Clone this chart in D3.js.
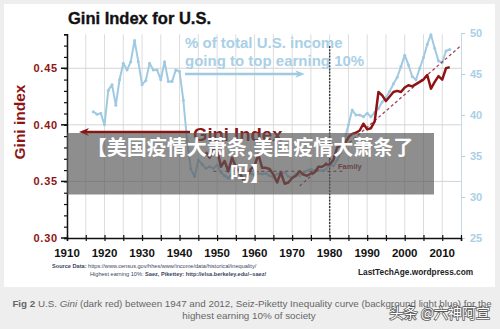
<!DOCTYPE html>
<html>
<head>
<meta charset="utf-8">
<script src="https://cdn.jsdelivr.net/npm/d3@7"></script>
<style>
  html, body { margin: 0; padding: 0; background: #eeeeee; }
  svg { display: block; }
</style>
</head>
<body>
<div id="chart"></div>
<script>
// top 10% income share (Saez-Piketty), percent
const shareYears = [1917, 1918, 1919, 1920, 1921, 1922, 1923, 1924, 1925, 1926, 1927, 1928, 1929,
  1930, 1931, 1932, 1933, 1934, 1935, 1936, 1937, 1938, 1939, 1940, 1941, 1942, 1943, 1944, 1945,
  1946, 1947, 1948, 1949, 1950, 1951, 1952, 1953, 1954, 1955, 1956, 1957, 1958, 1959, 1960, 1961,
  1962, 1963, 1964, 1965, 1966, 1967, 1968, 1969, 1970, 1971, 1972, 1973, 1974, 1975, 1976, 1977,
  1978, 1979, 1980, 1981, 1982, 1983, 1984, 1985, 1986, 1987, 1988, 1989, 1990, 1991, 1992, 1993,
  1994, 1995, 1996, 1997, 1998, 1999, 2000, 2001, 2002, 2003, 2004, 2005, 2006, 2007, 2008, 2009,
  2010, 2011, 2012]
const shareValues = [40.4, 40.1, 40.2, 38.8, 43.0, 43.7, 41.2, 44.3, 46.3, 45.5, 46.5, 49.1, 46.5,
  43.7, 44.2, 46.3, 45.5, 45.5, 44.3, 46.5, 44.1, 44.1, 45.5, 45.3, 41.8, 36.9, 33.4, 32.5, 34.5,
  34.0, 33.5, 33.7, 33.5, 33.9, 33.0, 32.6, 32.3, 32.8, 32.6, 32.7, 32.5, 32.8, 32.9, 32.6, 32.9,
  32.8, 32.9, 32.6, 32.4, 32.8, 33.0, 33.0, 32.5, 32.4, 32.8, 32.6, 32.9, 33.2, 33.4, 33.2, 33.3,
  33.2, 33.4, 33.9, 33.8, 34.5, 35.4, 37.0, 38.8, 40.6, 40.0, 40.0, 39.8, 40.2, 39.8, 40.3, 40.8,
  41.6, 42.1, 42.9, 43.8, 44.6, 45.9, 47.3, 46.1, 44.7, 44.3, 45.7, 47.0, 48.6, 49.8, 48.1, 46.6,
  46.4, 47.8, 48.0]

// Census family Gini index
const giniYears = [1947, 1948, 1949, 1950, 1951, 1952, 1953, 1954, 1955, 1956, 1957, 1958, 1959,
  1960, 1961, 1962, 1963, 1964, 1965, 1966, 1967, 1968, 1969, 1970, 1971, 1972, 1973, 1974, 1975,
  1976, 1977, 1978, 1979, 1980, 1981, 1982, 1983, 1984, 1985, 1986, 1987, 1988, 1989, 1990, 1991,
  1992, 1993, 1994, 1995, 1996, 1997, 1998, 1999, 2000, 2001, 2002, 2003, 2004, 2005, 2006, 2007,
  2008, 2009, 2010, 2011, 2012]
const giniValues = [0.376, 0.371, 0.378, 0.379, 0.363, 0.368, 0.359, 0.371, 0.363, 0.358, 0.351,
  0.354, 0.361, 0.364, 0.374, 0.362, 0.362, 0.361, 0.356, 0.349, 0.358, 0.348, 0.349, 0.353, 0.355,
  0.359, 0.356, 0.355, 0.357, 0.358, 0.363, 0.363, 0.365, 0.365, 0.369, 0.380, 0.382, 0.383, 0.389,
  0.392, 0.393, 0.395, 0.401, 0.396, 0.397, 0.403, 0.429, 0.426, 0.421, 0.425, 0.429, 0.430, 0.429,
  0.433, 0.435, 0.434, 0.436, 0.438, 0.440, 0.444, 0.432, 0.438, 0.443, 0.440, 0.450, 0.451]

// dashed guides: rising trend and the flat family level
const trendYears = [1972, 2015]
const trendGini = [0.346, 0.470]
const familyYears = [1949, 1984]
const familyGini = [0.359, 0.359]

const yearTicks = [1910, 1920, 1930, 1940, 1950, 1960, 1970, 1980, 1990, 2000, 2010]
const giniTicks = [0.30, 0.35, 0.40, 0.45]
const shareTicks = [25, 30, 35, 40, 45, 50]

const W = 500
const H = 329
const red = '#8e1414'
const blue = '#9fcae2'

const svg = d3.select('#chart').append('svg')
  .attr('width', W)
  .attr('height', H)

// white card behind the chart
svg.append('rect')
  .attr('x', 4).attr('y', 4)
  .attr('width', 491).attr('height', 283)
  .attr('fill', '#ffffff')

const x = d3.scaleLinear().domain([1910, 2015]).range([67, 461])
const yGini = d3.scaleLinear().domain([0.30, 0.48]).range([238, 34.3])
const yShare = d3.scaleLinear().domain([25, 50]).range([238, 33])

// grid
const grid = svg.append('g')
grid.selectAll('.vg')
  .data(d3.range(1915, 2015, 5))
  .join('line')
  .attr('x1', d => x(d)).attr('x2', d => x(d))
  .attr('y1', yGini(0.48)).attr('y2', yGini(0.30))
  .attr('stroke', '#dcdcdc').attr('stroke-width', 1)
grid.selectAll('.hg')
  .data(giniTicks.slice(1))
  .join('line')
  .attr('x1', x(1910)).attr('x2', x(2015))
  .attr('y1', d => yGini(d)).attr('y2', d => yGini(d))
  .attr('stroke', '#d4d4d4').attr('stroke-width', 1)

// left axis (Gini)
const leftAxis = svg.append('g')
  .attr('transform', `translate(${x(1910)},0)`)
  .call(d3.axisLeft(yGini).tickValues(d3.range(0.30, 0.4801, 0.01)).tickSize(3).tickFormat(''))
leftAxis.select('.domain').attr('stroke', '#111').attr('stroke-width', 1.5)
leftAxis.selectAll('.tick line').attr('stroke', '#111').attr('stroke-width', 1.2)
svg.append('g')
  .selectAll('line')
  .data(giniTicks)
  .join('line')
  .attr('x1', x(1910) - 6).attr('x2', x(1910))
  .attr('y1', d => yGini(d)).attr('y2', d => yGini(d))
  .attr('stroke', '#111').attr('stroke-width', 1.5)
svg.append('g')
  .selectAll('text')
  .data(giniTicks)
  .join('text')
  .attr('x', 58)
  .attr('y', d => yGini(d) + 4)
  .attr('text-anchor', 'end')
  .attr('font-family', 'Liberation Sans, Arial, sans-serif')
  .attr('font-weight', 'bold')
  .attr('font-size', 11)
  .attr('letter-spacing', 0.8)
  .attr('fill', red)
  .text(d => d.toFixed(2))
svg.append('text')
  .attr('transform', `translate(25,${122}) rotate(-90)`)
  .attr('text-anchor', 'middle')
  .attr('font-family', 'Liberation Sans, Arial, sans-serif')
  .attr('font-weight', 'bold')
  .attr('font-size', 15.5)
  .attr('fill', red)
  .text('Gini index')

// right axis (income share)
const rightAxis = svg.append('g')
  .attr('transform', `translate(${x(2015)},0)`)
  .call(d3.axisRight(yShare).tickValues(shareTicks).tickSize(4).tickFormat(''))
rightAxis.select('.domain').attr('stroke', '#c9d9e3').attr('stroke-width', 1)
rightAxis.selectAll('.tick line').attr('stroke', '#b8cfdd')
svg.append('g')
  .selectAll('text')
  .data(shareTicks)
  .join('text')
  .attr('x', 476)
  .attr('y', d => yShare(d) + 4)
  .attr('text-anchor', 'middle')
  .attr('font-family', 'Liberation Sans, Arial, sans-serif')
  .attr('font-weight', 'bold')
  .attr('font-size', 11)
  .attr('fill', '#a9d0e6')
  .text(d => d)

// bottom axis
const bottomAxis = svg.append('g')
  .attr('transform', `translate(0,${yGini(0.30)})`)
  .call(d3.axisBottom(x).tickValues(d3.range(1910, 2016, 5)).tickSize(3).tickFormat(''))
bottomAxis.select('.domain').attr('stroke', '#111').attr('stroke-width', 1.5)
bottomAxis.selectAll('.tick line').attr('stroke', '#111').attr('stroke-width', 1.2).attr('y1', -3)
svg.append('g')
  .selectAll('text')
  .data(yearTicks)
  .join('text')
  .attr('x', d => x(d))
  .attr('y', 257)
  .attr('text-anchor', 'middle')
  .attr('font-family', 'Liberation Sans, Arial, sans-serif')
  .attr('font-weight', 'bold')
  .attr('font-size', 11.5)
  .attr('fill', '#111')
  .text(d => d)

// 1980 marker
svg.append('line')
  .attr('x1', x(1980)).attr('x2', x(1980))
  .attr('y1', 46).attr('y2', yGini(0.30))
  .attr('stroke', '#333').attr('stroke-width', 1.4)
  .attr('stroke-dasharray', '2,1.2')

// family level and trend guides
const guide = d3.line().x(d => x(d[0])).y(d => yGini(d[1]))
svg.append('path')
  .attr('d', guide(d3.zip(familyYears, familyGini)))
  .attr('fill', 'none')
  .attr('stroke', red).attr('stroke-width', 1.1)
  .attr('stroke-dasharray', '3,3')
svg.append('text')
  .attr('x', 338).attr('y', 169)
  .attr('font-family', 'Liberation Sans, Arial, sans-serif')
  .attr('font-weight', 'bold')
  .attr('font-size', 7.5)
  .attr('fill', red)
  .text('Family')

// top 10% share line
const shareData = d3.zip(shareYears, shareValues)
const shareLine = d3.line().x(d => x(d[0])).y(d => yShare(d[1]))
svg.append('path')
  .attr('d', shareLine(shareData))
  .attr('fill', 'none')
  .attr('stroke', blue)
  .attr('stroke-width', 2)
  .attr('stroke-linejoin', 'round')
svg.append('g')
  .selectAll('circle')
  .data(shareData)
  .join('circle')
  .attr('cx', d => x(d[0]))
  .attr('cy', d => yShare(d[1]))
  .attr('r', 1.5)
  .attr('fill', blue)

svg.append('path')
  .attr('d', guide(d3.zip(trendYears, trendGini)))
  .attr('fill', 'none')
  .attr('stroke', '#a0445a').attr('stroke-width', 1.3)
  .attr('stroke-dasharray', '3,2.5')

// Gini line
svg.append('path')
  .attr('d', guide(d3.zip(giniYears, giniValues)))
  .attr('fill', 'none')
  .attr('stroke', red)
  .attr('stroke-width', 2.5)
  .attr('stroke-linejoin', 'round')

// annotations
const defs = svg.append('defs')
defs.append('marker')
  .attr('id', 'headBlue')
  .attr('viewBox', '0 0 10 10')
  .attr('refX', 5).attr('refY', 5)
  .attr('markerWidth', 4).attr('markerHeight', 4)
  .attr('orient', 'auto')
  .append('path').attr('d', 'M0,1L10,5L0,9L3,5Z').attr('fill', blue)
defs.append('marker')
  .attr('id', 'headRed')
  .attr('viewBox', '0 0 10 10')
  .attr('refX', 5).attr('refY', 5)
  .attr('markerWidth', 4).attr('markerHeight', 4)
  .attr('orient', 'auto')
  .append('path').attr('d', 'M0,1L10,5L0,9L3,5Z').attr('fill', red)

const blueNote = svg.append('g')
  .attr('font-family', 'Liberation Sans, Arial, sans-serif')
  .attr('font-weight', 'bold')
  .attr('font-size', 15)
  .attr('fill', '#a9d0e6')
blueNote.append('text').attr('x', 185).attr('y', 48).text('% of total U.S. income')
blueNote.append('text').attr('x', 185).attr('y', 66).text('going to top earning 10%')
svg.append('line')
  .attr('x1', 185).attr('x2', 300)
  .attr('y1', 74).attr('y2', 74)
  .attr('stroke', blue).attr('stroke-width', 2.4)
  .attr('marker-end', 'url(#headBlue)')

svg.append('line')
  .attr('x1', 190).attr('x2', 84)
  .attr('y1', 132).attr('y2', 132)
  .attr('stroke', red).attr('stroke-width', 2.6)
  .attr('marker-end', 'url(#headRed)')
svg.append('text')
  .attr('x', 193).attr('y', 141)
  .attr('font-family', 'Liberation Sans, Arial, sans-serif')
  .attr('font-weight', 'bold')
  .attr('font-size', 18.5)
  .attr('fill', red)
  .text('Gini Index')

// title
svg.append('text')
  .attr('x', 68).attr('y', 24)
  .attr('font-family', 'Liberation Sans, Arial, sans-serif')
  .attr('font-weight', 'bold')
  .attr('font-size', 16.5)
  .attr('fill', '#111')
  .attr('stroke', '#111').attr('stroke-width', 0.35)
  .text('Gini Index for U.S.')

// sources
const src = svg.append('g')
  .attr('font-family', 'Liberation Sans, Arial, sans-serif')
  .attr('font-size', 5.6)
  .attr('fill', '#3a4660')
src.append('text').attr('x', 52).attr('y', 268)
  .call(t => t.append('tspan').attr('font-weight', 'bold').text('Source Data:  '))
  .call(t => t.append('tspan').text('https://www.census.gov/hhes/www/income/data/historical/inequality/'))
src.append('text').attr('x', 90).attr('y', 275.5)
  .call(t => t.append('tspan').text('Highest earning 10%:   '))
  .call(t => t.append('tspan').attr('font-weight', 'bold').text('Saez, Pikettey:   http://elsa.berkeley.edu/~saez/'))
svg.append('text')
  .attr('x', 358).attr('y', 275)
  .attr('font-family', 'Liberation Sans, Arial, sans-serif')
  .attr('font-weight', 'bold')
  .attr('font-size', 8.3)
  .attr('fill', '#222')
  .text('LastTechAge.wordpress.com')

// caption under the card
const cap = svg.append('g')
  .attr('font-family', 'Liberation Sans, Arial, sans-serif')
  .attr('font-size', 9.8)
  .attr('fill', '#666')
  .attr('text-anchor', 'middle')
cap.append('text').attr('x', 252).attr('y', 306.5)
  .call(t => t.append('tspan').attr('font-weight', 'bold').text('Fig 2 '))
  .call(t => t.append('tspan').text(' U.S. '))
  .call(t => t.append('tspan').attr('font-style', 'italic').text('Gini'))
  .call(t => t.append('tspan').text(' (dark red) between 1947 and 2012, Seiz-Piketty Inequality curve (background light blue) for the'))
cap.append('text').attr('x', 249).attr('y', 319).text('highest earning 10% of society')

// headline banner
svg.append('rect')
  .attr('x', 67).attr('y', 133)
  .attr('width', 367).attr('height', 61.5)
  .attr('fill', 'rgba(88,88,88,0.68)')
const banner = svg.append('g')
  .attr('font-family', 'Noto Sans CJK SC, sans-serif')
  .attr('font-weight', 'bold')
  .attr('font-size', 20)
  .attr('fill', '#ffffff')
  .attr('text-anchor', 'middle')
banner.append('text').attr('x', 250).attr('y', 154.5).text('【美国疫情大萧条,美国疫情大萧条了')
banner.append('text').attr('x', 250).attr('y', 180.5).text('吗】')

// site watermark
svg.append('text')
  .attr('x', 490).attr('y', 318)
  .attr('text-anchor', 'end')
  .attr('font-family', 'Noto Sans CJK SC, sans-serif')
  .attr('font-size', 14)
  .attr('fill', '#ffffff')
  .attr('stroke', 'rgba(40,40,40,0.75)')
  .attr('stroke-width', 1.6)
  .attr('paint-order', 'stroke')
  .text('头条 @六神阿宣')
</script>
</body>
</html>
